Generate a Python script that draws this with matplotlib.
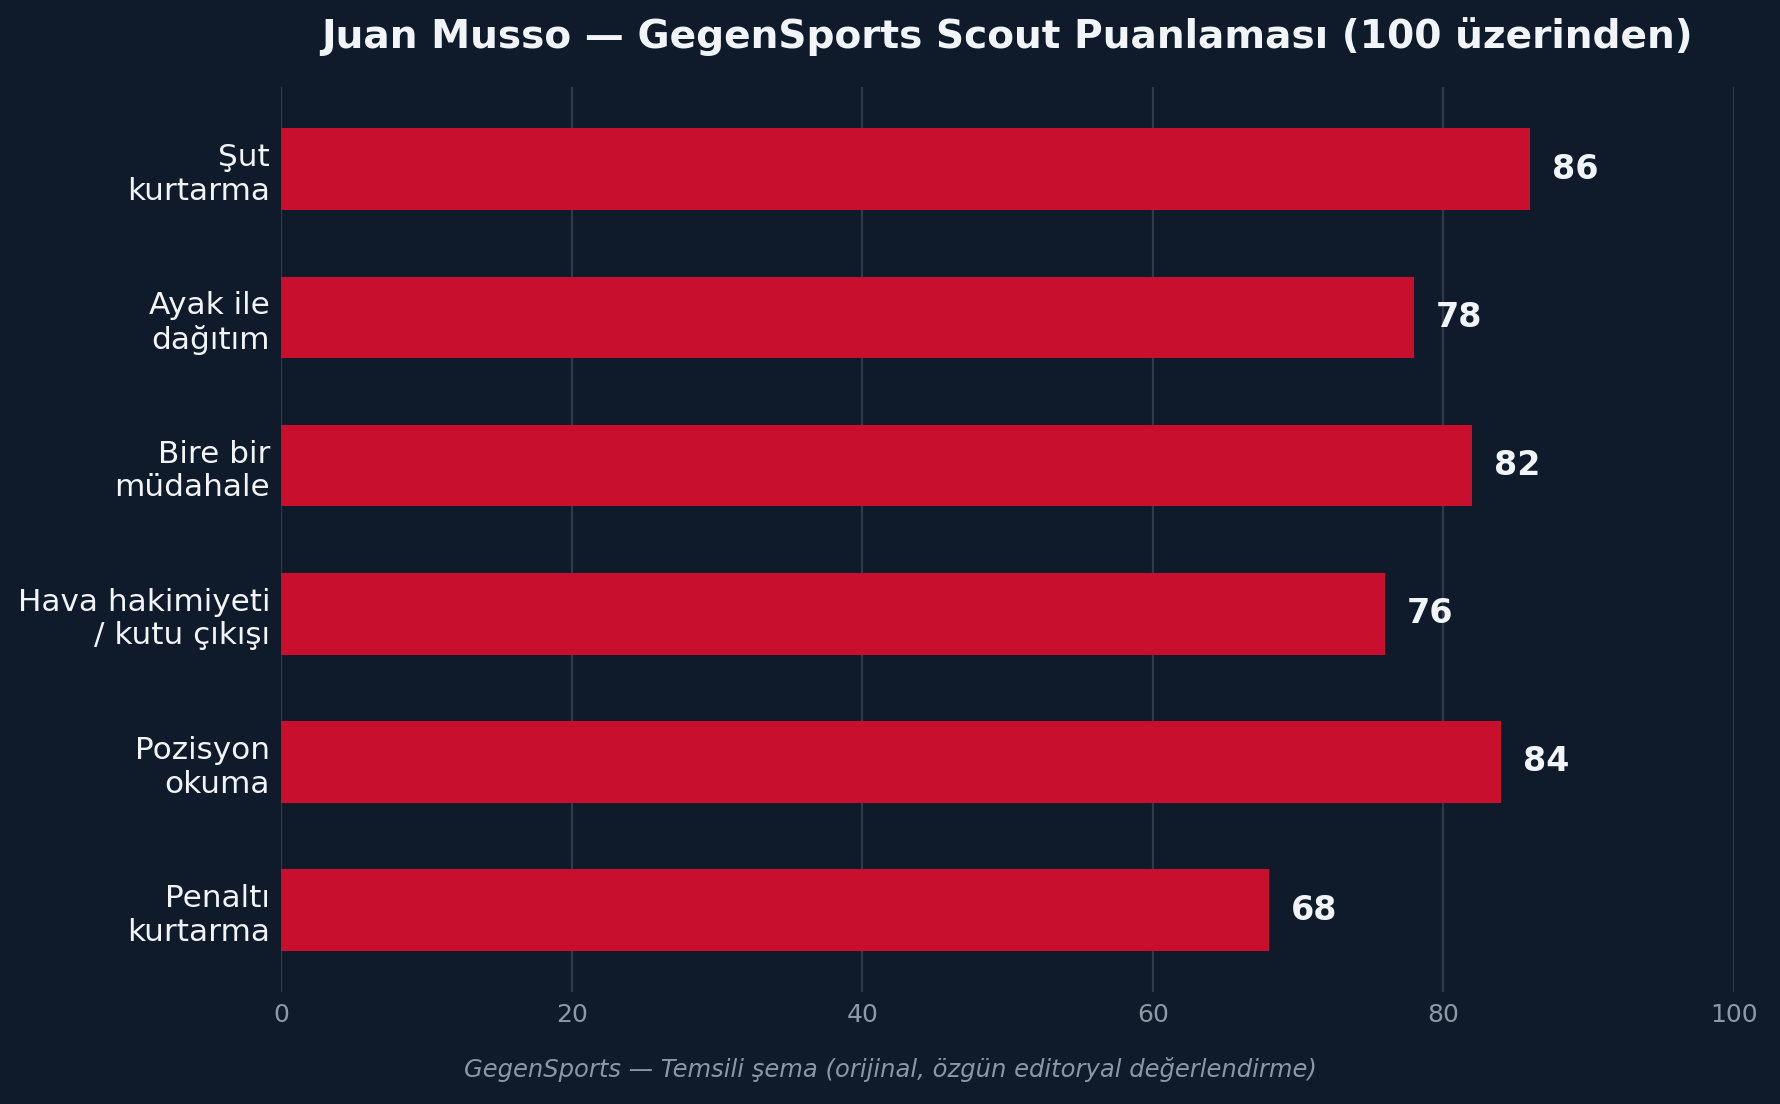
import matplotlib.pyplot as plt

# scout ratings (out of 100)
categories = ["Şut\nkurtarma", "Ayak ile\ndağıtım", "Bire bir\nmüdahale",
              "Hava hakimiyeti\n/ kutu çıkışı", "Pozisyon\nokuma", "Penaltı\nkurtarma"]
scores = [86, 78, 82, 76, 84, 68]
xticks = [0, 20, 40, 60, 80, 100]

bg = "#0f1a2a"
bar_color = "#c8102e"

fig = plt.figure(figsize=(8.9, 5.52), dpi=200, facecolor=bg)
ax = fig.add_axes([0.158, 0.1014, 0.816, 0.8196])
ax.set_facecolor(bg)

ypos = list(range(len(categories)))
ax.barh(ypos, scores, height=0.55, color=bar_color, zorder=3)
ax.invert_yaxis()

for y, v in zip(ypos, scores):
    ax.text(v + 1.5, y, str(v), va="center", ha="left", color="#f1f5f9",
            fontsize=12, fontweight="bold", zorder=4)

ax.set_xlim(0, 100)
ax.set_xticks(xticks)
ax.set_yticks(ypos)
ax.set_yticklabels(categories, fontsize=11.2, color="#f1f5f9")
ax.tick_params(axis="x", length=0, pad=4, labelsize=9, labelcolor="#8e99a8")
ax.tick_params(axis="y", length=0, pad=4)
ax.grid(axis="x", color="#2e3a4b", linewidth=0.8, zorder=0)
for s in ax.spines.values():
    s.set_visible(False)

ax.set_title("Juan Musso — GegenSports Scout Puanlaması (100 üzerinden)",
             fontsize=14.1, fontweight="bold", color="#f1f5f9", pad=14)
fig.text(0.5, 0.031, "GegenSports — Temsili şema (orijinal, özgün editoryal değerlendirme)",
         ha="center", va="center", fontsize=8.75, style="italic", color="#8b97a8")

fig.savefig("out.png", dpi=200, facecolor=bg)
